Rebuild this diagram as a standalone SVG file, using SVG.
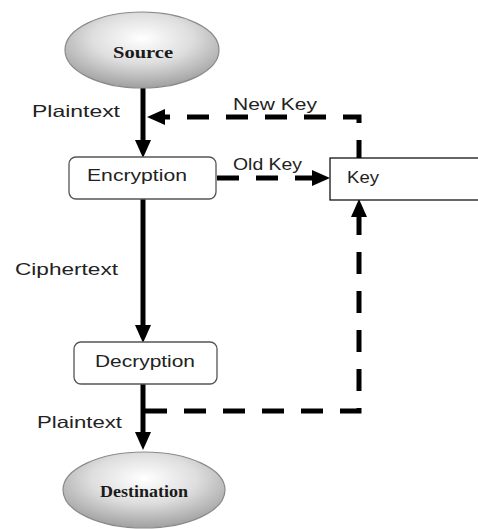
<svg xmlns="http://www.w3.org/2000/svg" width="478" height="529" viewBox="0 0 478 529">
  <defs>
    <radialGradient id="ellGrad" cx="0.5" cy="0.35" r="0.65">
      <stop offset="0" stop-color="#ffffff"/>
      <stop offset="0.5" stop-color="#dedede"/>
      <stop offset="1" stop-color="#a0a0a0"/>
    </radialGradient>
    <marker id="arrow" markerUnits="userSpaceOnUse" markerWidth="18" markerHeight="16" viewBox="0 0 18 16" refX="2" refY="8" orient="auto">
      <path d="M0,0 L18,8 L0,16 z" fill="#000"/>
    </marker>
    <style>
      .ell { fill: url(#ellGrad); stroke: #8a8a8a; stroke-width: 1.2; }
      .box { fill: #fff; stroke: #555; stroke-width: 1.3; }
      .keybox { fill: #fff; stroke: #000; stroke-width: 1.2; }
      .serif { font-family: "Liberation Serif", "Times New Roman", serif; font-weight: bold; font-size: 17px; fill: #1a1a1a; }
      .sans { font-family: "Liberation Sans", Arial, sans-serif; font-size: 16.5px; fill: #222; }
      .solid { stroke: #000; stroke-width: 5; fill: none; }
      .dash { stroke: #000; stroke-width: 5; fill: none; stroke-dasharray: 22 17; }
    </style>
  </defs>

  <g id="connectors">
    <line class="solid" x1="143" y1="88" x2="143" y2="142" marker-end="url(#arrow)"/>
    <line class="solid" x1="143" y1="199" x2="143" y2="327" marker-end="url(#arrow)"/>
    <line class="solid" x1="143" y1="384" x2="143" y2="434" marker-end="url(#arrow)"/>
    <polyline class="dash" points="359,162 359,117 163,117" stroke-dasharray="10 7 49 20 23 20 25 18 25 18 25 18 25 18" marker-end="url(#arrow)"/>
    <line class="dash" x1="217" y1="178" x2="314" y2="178" stroke-dasharray="25 18" marker-end="url(#arrow)"/>
    <polyline class="dash" points="145,411 359,411 359,215" stroke-dasharray="0 4 25 18" marker-end="url(#arrow)"/>
  </g>

  <g id="labels">
    <text class="sans" x="32" y="117" textLength="88" lengthAdjust="spacingAndGlyphs">Plaintext</text>
    <text class="sans" x="233" y="110" textLength="84" lengthAdjust="spacingAndGlyphs">New Key</text>
    <text class="sans" x="233" y="170" textLength="69" lengthAdjust="spacingAndGlyphs">Old Key</text>
    <text class="sans" x="15" y="275" textLength="103" lengthAdjust="spacingAndGlyphs">Ciphertext</text>
    <text class="sans" x="37" y="428" textLength="85" lengthAdjust="spacingAndGlyphs">Plaintext</text>
  </g>

  <g id="source">
    <ellipse class="ell" cx="142" cy="50" rx="77" ry="38"/>
    <text class="serif" x="143" y="58" text-anchor="middle" textLength="60" lengthAdjust="spacingAndGlyphs">Source</text>
  </g>

  <g id="encryption">
    <rect class="box" x="69" y="157" width="147" height="42" rx="7"/>
    <text class="sans" x="87" y="181" textLength="100" lengthAdjust="spacingAndGlyphs">Encryption</text>
  </g>

  <g id="key">
    <rect class="keybox" x="330" y="158" width="160" height="42"/>
    <text class="sans" x="347" y="183" textLength="32" lengthAdjust="spacingAndGlyphs">Key</text>
  </g>

  <g id="decryption">
    <rect class="box" x="74" y="342" width="143" height="42" rx="7"/>
    <text class="sans" x="95" y="367" textLength="100" lengthAdjust="spacingAndGlyphs">Decryption</text>
  </g>

  <g id="destination">
    <ellipse class="ell" cx="144" cy="490" rx="81" ry="38"/>
    <text class="serif" x="144" y="497" text-anchor="middle" textLength="88" lengthAdjust="spacingAndGlyphs">Destination</text>
  </g>
</svg>
